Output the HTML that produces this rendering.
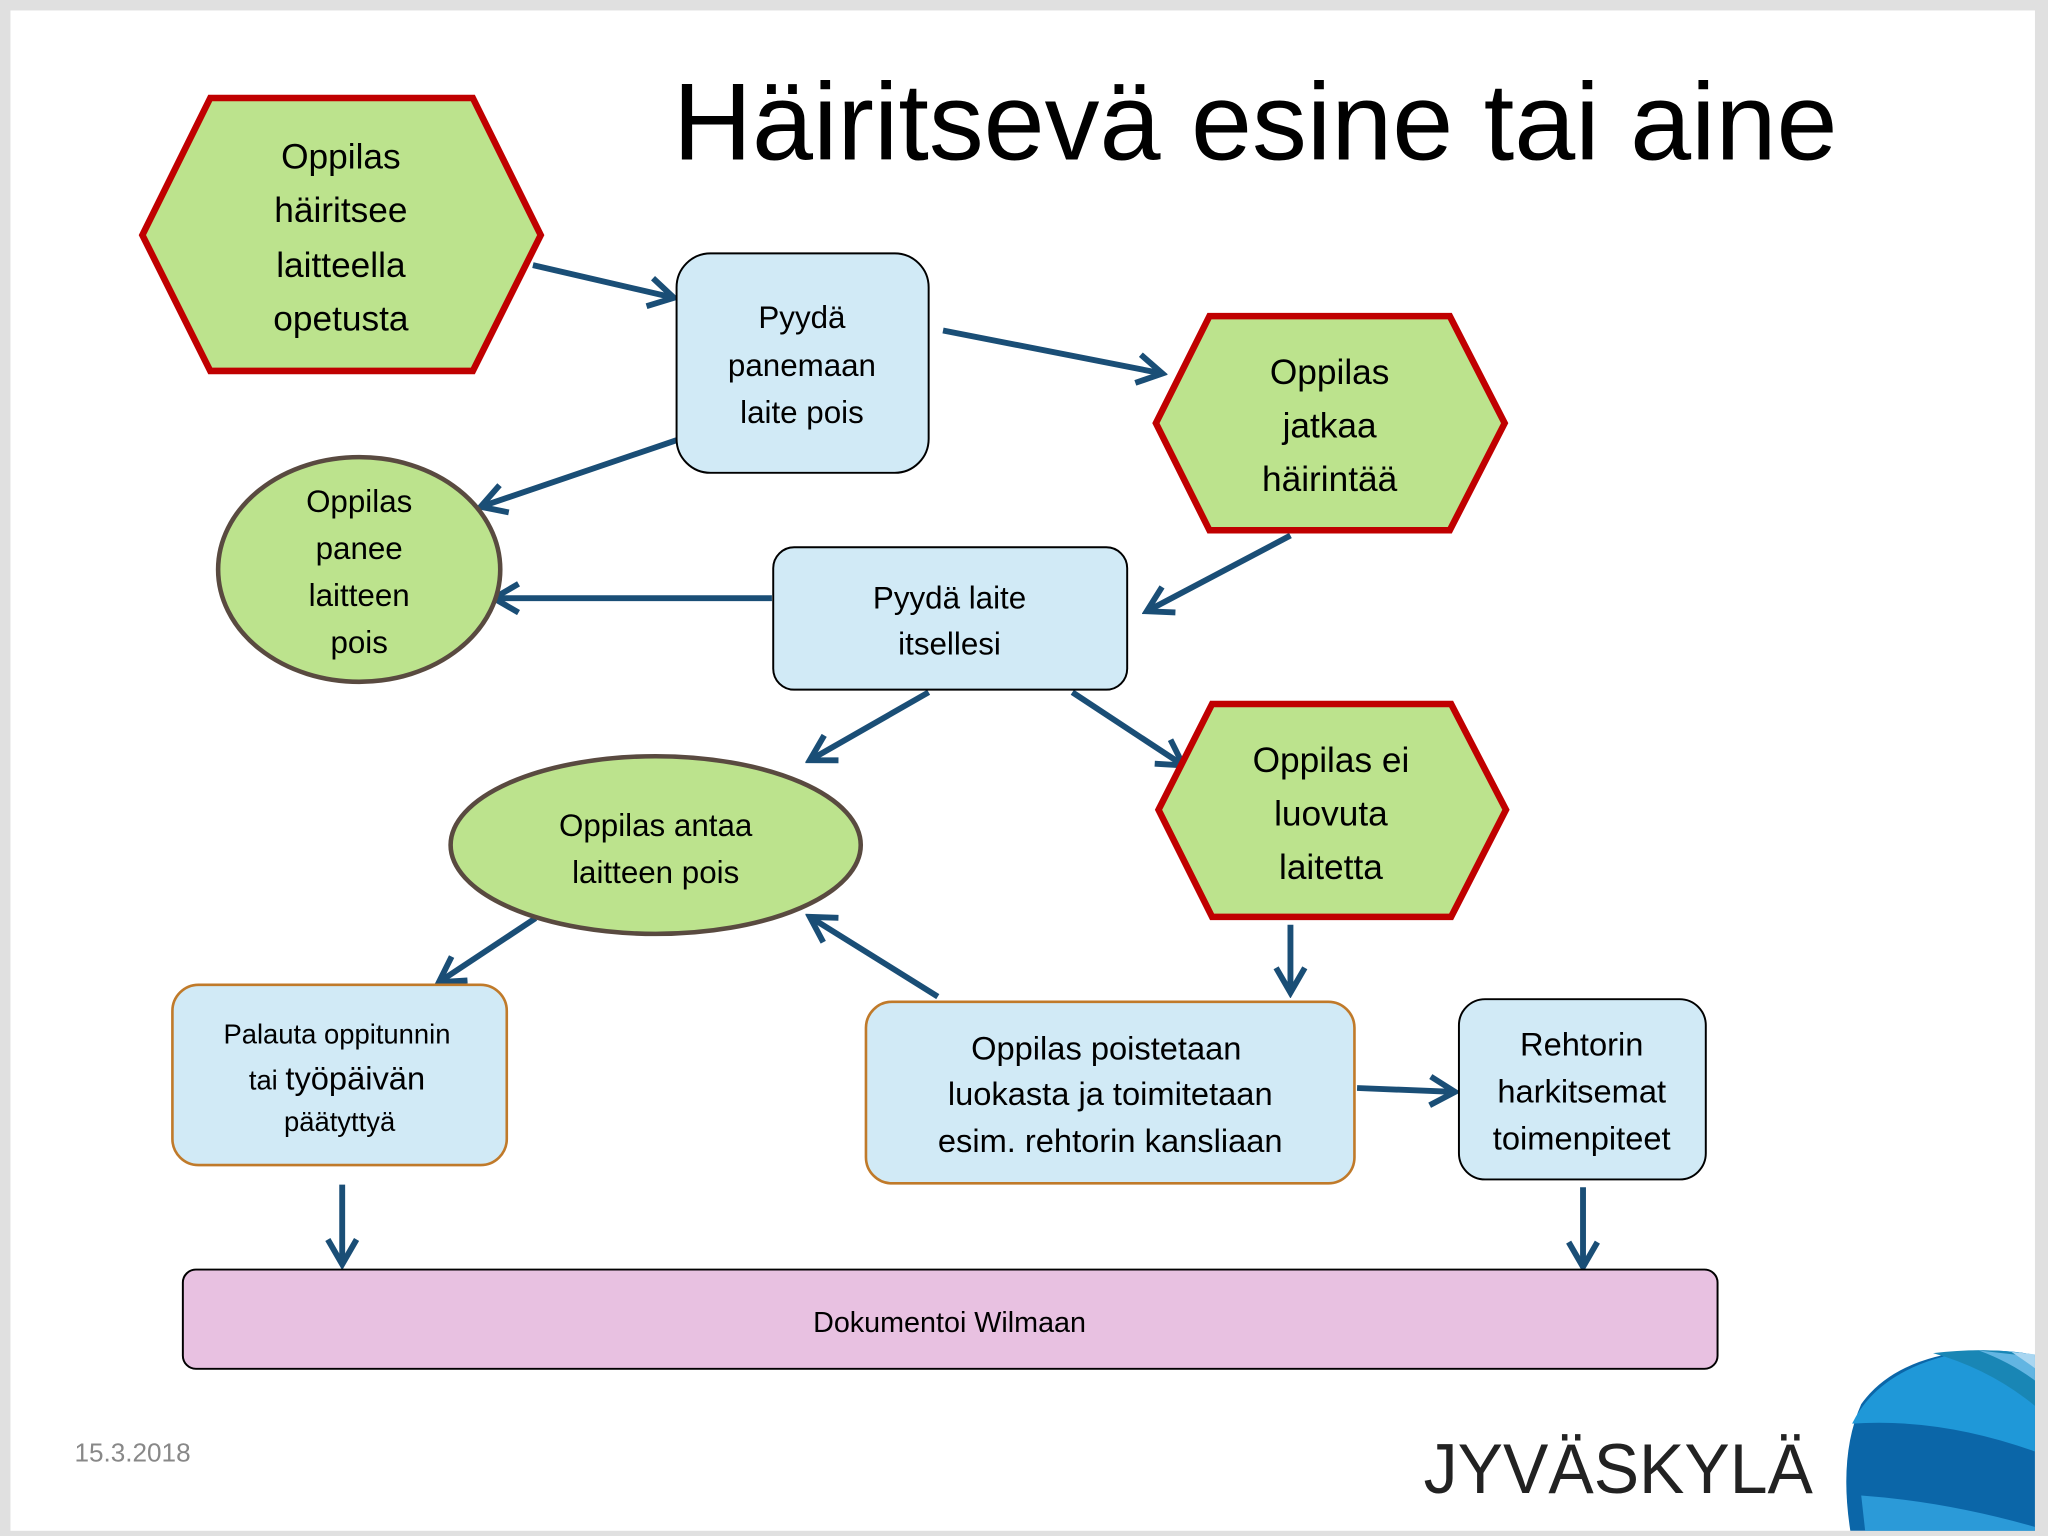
<!DOCTYPE html>
<html><head><meta charset="utf-8"><style>html,body{margin:0;padding:0;background:#e0e0e0}svg{display:block}text{font-family:"Liberation Sans",sans-serif}</style></head>
<body>
<svg width="2048" height="1536" viewBox="0 0 1568 1176" xmlns="http://www.w3.org/2000/svg">
<defs>
<marker id="b" viewBox="0 0 26 26" refX="22" refY="13" markerWidth="26" markerHeight="26" markerUnits="userSpaceOnUse" orient="auto"><path d="M3,2 L22,13 L3,24" fill="none" stroke="#1a4e76" stroke-width="4.5"/></marker>
<clipPath id="c"><rect x="8" y="8" width="1550" height="1164"/></clipPath>
</defs>
<rect x="0" y="0" width="1568" height="1176" fill="#e0e0e0"/>
<rect x="8" y="8" width="1550" height="1164" fill="#fff"/>
<text x="961" y="122" font-size="84" text-anchor="middle" fill="#000">Häiritsevä esine tai aine</text>
<g stroke="#1a4e76" stroke-width="4.5" fill="none">
<line x1="408" y1="203" x2="516" y2="228" marker-end="url(#b)"/>
<line x1="722" y1="253" x2="890" y2="286" marker-end="url(#b)"/>
<line x1="518" y1="337" x2="368" y2="388" marker-end="url(#b)"/>
<line x1="988" y1="410" x2="878" y2="468" marker-end="url(#b)"/>
<line x1="591" y1="458" x2="378" y2="458" marker-end="url(#b)"/>
<line x1="711" y1="530" x2="620" y2="582" marker-end="url(#b)"/>
<line x1="821" y1="530" x2="906" y2="586" marker-end="url(#b)"/>
<line x1="410" y1="703" x2="336" y2="752" marker-end="url(#b)"/>
<line x1="718" y1="763" x2="620" y2="702" marker-end="url(#b)"/>
<line x1="988" y1="708" x2="988" y2="760" marker-end="url(#b)"/>
<line x1="1039" y1="833" x2="1114" y2="836" marker-end="url(#b)"/>
<line x1="262" y1="907" x2="262" y2="968" marker-end="url(#b)"/>
<line x1="1212" y1="909" x2="1212" y2="970" marker-end="url(#b)"/>
</g>
<g font-size="27" fill="#000" text-anchor="middle">
<polygon points="161,75 362,75 414,180 362,284 161,284 109,180" fill="#bce38d" stroke="#c00000" stroke-width="5"/>
<text x="261" y="129">Oppilas</text><text x="261" y="170">häiritsee</text><text x="261" y="212">laitteella</text><text x="261" y="253">opetusta</text>
<rect x="518" y="194" width="193" height="168" rx="26" fill="#d1eaf6" stroke="#000" stroke-width="1.5"/>
<text x="614" y="251" font-size="24">Pyydä</text><text x="614" y="288" font-size="24">panemaan</text><text x="614" y="324" font-size="24">laite pois</text>
<polygon points="926,242 1110,242 1152,324 1110,406 926,406 885,324" fill="#bce38d" stroke="#c00000" stroke-width="5"/>
<text x="1018" y="294">Oppilas</text><text x="1018" y="335">jatkaa</text><text x="1018" y="376">häirintää</text>
<ellipse cx="275" cy="436" rx="108" ry="86" fill="#bce38d" stroke="#594a40" stroke-width="3.5"/>
<text x="275" y="392" font-size="24">Oppilas</text><text x="275" y="428" font-size="24">panee</text><text x="275" y="464" font-size="24">laitteen</text><text x="275" y="500" font-size="24">pois</text>
<rect x="592" y="419" width="271" height="109" rx="16" fill="#d1eaf6" stroke="#000" stroke-width="1.5"/>
<text x="727" y="466" font-size="24">Pyydä laite</text><text x="727" y="501" font-size="24">itsellesi</text>
<ellipse cx="502" cy="647" rx="157" ry="68" fill="#bce38d" stroke="#594a40" stroke-width="3.5"/>
<text x="502" y="640" font-size="24">Oppilas antaa</text><text x="502" y="676" font-size="24">laitteen pois</text>
<polygon points="928,539 1111,539 1153,620 1111,702 928,702 887,620" fill="#bce38d" stroke="#c00000" stroke-width="5"/>
<text x="1019" y="591">Oppilas ei</text><text x="1019" y="632">luovuta</text><text x="1019" y="673">laitetta</text>
<rect x="132" y="754" width="256" height="138" rx="20" fill="#d1eaf6" stroke="#c07a2a" stroke-width="2"/>
<text x="258" y="799" font-size="21">Palauta oppitunnin</text>
<text x="258" y="834" font-size="21">tai <tspan font-size="25">työpäivän</tspan></text>
<text x="260" y="866" font-size="21">päätyttyä</text>
<rect x="663" y="767" width="374" height="139" rx="20" fill="#d1eaf6" stroke="#c07a2a" stroke-width="2"/>
<text x="847" y="811" font-size="25">Oppilas poistetaan</text><text x="850" y="846" font-size="25">luokasta ja toimitetaan</text><text x="850" y="882" font-size="25">esim. rehtorin kansliaan</text>
<rect x="1117" y="765" width="189" height="138" rx="20" fill="#d1eaf6" stroke="#000" stroke-width="1.5"/>
<text x="1211" y="808" font-size="25">Rehtorin</text><text x="1211" y="844" font-size="25">harkitsemat</text><text x="1211" y="880" font-size="25">toimenpiteet</text>
<rect x="140" y="972" width="1175" height="76" rx="10" fill="#e8c1e1" stroke="#000" stroke-width="1.5"/>
<text x="727" y="1020" font-size="22">Dokumentoi Wilmaan</text>
</g>
<text x="57" y="1119" font-size="20" fill="#888">15.3.2018</text>
<text x="1239" y="1143" font-size="54" fill="#222" text-anchor="middle" textLength="298" lengthAdjust="spacingAndGlyphs">JYVÄSKYLÄ</text>
<g clip-path="url(#c)">
<path d="M1420,1190 Q1405,1120 1425,1075 Q1450,1040 1510,1034 Q1545,1033 1568,1040 L1568,1190Z" fill="#0b66a8"/>
<path d="M1418,1090 Q1440,1045 1510,1034 Q1545,1033 1568,1040 L1568,1115 Q1490,1085 1418,1090Z" fill="#1f98d8"/>
<path d="M1480,1036 Q1530,1050 1568,1085 L1568,1040 Q1530,1030 1480,1036Z" fill="#1986b5"/>
<path d="M1515,1034 Q1545,1045 1568,1065 L1568,1040Z" fill="#62b5e2"/>
<path d="M1540,1035 Q1555,1045 1568,1055 L1568,1038Z" fill="#a9d6f1"/>
<path d="M1425,1145 Q1495,1150 1568,1172 L1568,1190 L1430,1190Z" fill="#2b9ad8"/>
</g>
</svg>
</body></html>
